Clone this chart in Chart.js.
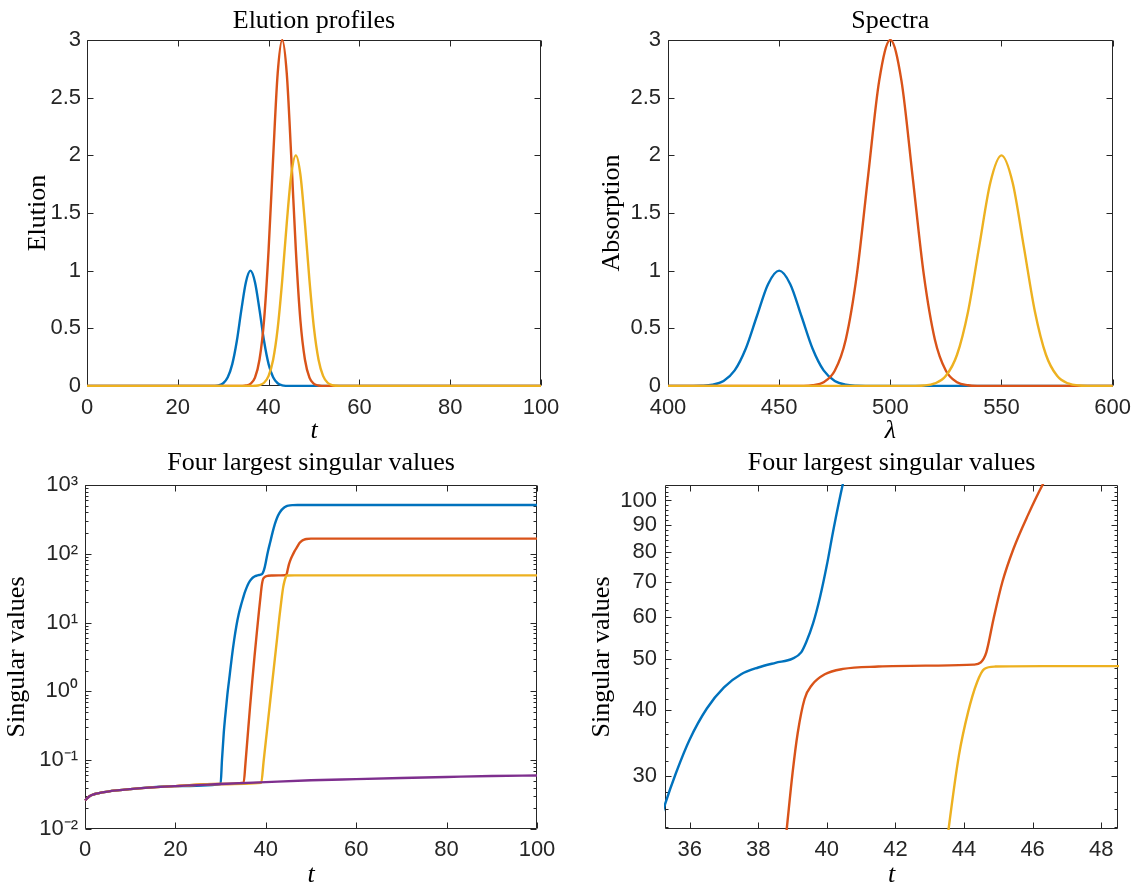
<!DOCTYPE html>
<html>
<head>
<meta charset="utf-8">
<title>Elution / spectra / singular values</title>
<script src="https://cdn.jsdelivr.net/npm/chart.js@4.4.1/dist/chart.umd.min.js"></script>
<style>
  html, body { margin: 0; padding: 0; background: #fff; overflow: hidden; }
  #wrap { position: relative; width: 1140px; height: 884px; overflow: hidden; }
  canvas { position: absolute; }
</style>
</head>
<body>
<div id="wrap">
  <canvas id="elution" width="570" height="460" style="left:0;top:0"></canvas>
  <canvas id="spectra" width="570" height="460" style="left:570px;top:0"></canvas>
  <canvas id="svFull" width="570" height="460" style="left:0;top:440px"></canvas>
  <canvas id="svZoom" width="570" height="460" style="left:570px;top:440px"></canvas>
</div>
<script>
// ---- elution profiles ----
const tElution = [0, 27, 28, 29, 30, 31, 32, 33, 34, 35, 36, 37, 38, 39, 40, 41, 42, 43, 44, 45, 46, 47, 48, 49, 50, 51, 52, 53, 54, 55, 56, 100];
const elutionBlue = [0, 0, 0.001, 0.006, 0.024, 0.076, 0.19, 0.39, 0.66, 0.90, 1, 0.90, 0.66, 0.39, 0.19, 0.076, 0.024, 0.006, 0.001, 0, 0, 0, 0, 0, 0, 0, 0, 0, 0, 0, 0, 0];
const elutionRed = [0, 0, 0, 0, 0, 0, 0, 0, 0.001, 0.004, 0.019, 0.073, 0.23, 0.57, 1.18, 1.98, 2.71, 3, 2.71, 1.98, 1.18, 0.57, 0.23, 0.073, 0.019, 0.004, 0.001, 0, 0, 0, 0, 0];
const elutionYellow = [0, 0, 0, 0, 0, 0, 0, 0, 0, 0, 0, 0.002, 0.008, 0.028, 0.088, 0.228, 0.499, 0.916, 1.413, 1.834, 2, 1.834, 1.413, 0.916, 0.499, 0.228, 0.088, 0.028, 0.008, 0.002, 0, 0];
const elutionXTicks = [0, 20, 40, 60, 80, 100];
const elutionXLabels = ['0', '20', '40', '60', '80', '100'];
const ampTicks = [0, 0.5, 1, 1.5, 2, 2.5, 3];
const ampLabels = ['0', '0.5', '1', '1.5', '2', '2.5', '3'];

// ---- spectra ----
const lambda = [400, 405, 410, 415, 420, 425, 430, 435, 440, 445, 450, 455, 460, 465, 470, 475, 480, 485, 490, 495, 500,
                505, 510, 515, 520, 525, 530, 535, 540, 545, 550, 555, 560, 565, 570, 575, 580, 585, 590, 595, 600];
const spectraBlue = [0, 0, 0.0003, 0.002, 0.011, 0.044, 0.135, 0.325, 0.607, 0.883, 1, 0.883, 0.607, 0.325, 0.135, 0.044, 0.011, 0.002, 0.0003, 0, 0,
                     0, 0, 0, 0, 0, 0, 0, 0, 0, 0, 0, 0, 0, 0, 0, 0, 0, 0, 0, 0];
const spectraRed = [0, 0, 0, 0, 0, 0, 0, 0, 0, 0, 0, 0, 0.001, 0.007, 0.033, 0.132, 0.406, 0.974, 1.820, 2.648, 3,
                    2.648, 1.820, 0.974, 0.406, 0.132, 0.033, 0.007, 0.001, 0, 0, 0, 0, 0, 0, 0, 0, 0, 0, 0, 0];
const spectraYellow = [0, 0, 0, 0, 0, 0, 0, 0, 0, 0, 0, 0, 0, 0, 0, 0, 0, 0, 0, 0, 0,
                       0, 0.001, 0.004, 0.022, 0.088, 0.271, 0.649, 1.213, 1.765, 2, 1.765, 1.213, 0.649, 0.271, 0.088, 0.022, 0.004, 0.001, 0, 0];
const lambdaTicks = [400, 450, 500, 550, 600];
const lambdaLabels = ['400', '450', '500', '550', '600'];

// ---- four largest singular values ----
const tBlue = [0, 1, 2, 5, 10, 20, 30, 30.3, 30.7, 31, 31.5, 32, 32.5, 33, 33.5, 34, 34.5, 35, 35.28, 35.6, 36, 36.5, 37, 37.5, 38, 38.5, 39,
               39.25, 39.4, 39.6, 39.8, 40, 40.2, 40.5, 41, 41.5, 42, 42.5, 43, 43.5, 44, 44.5, 45, 46, 47, 100];
const svBlue = [0.026, 0.030, 0.032, 0.035, 0.038, 0.042, 0.045, 0.1, 0.25, 0.42, 0.9, 1.7, 3.2, 5.6, 9.0, 13.2, 17.8, 23.0, 26.5, 30.4, 35.2, 40.3, 44.2,
                46.8, 48.2, 49.2, 50.1, 51.5, 53.9, 58.5, 65.5, 75.4, 88.6, 110, 150, 205, 270, 335, 390, 435, 468, 490, 502, 510, 512, 512];
const tRed = [0, 1, 2, 5, 10, 20, 30, 35.1, 35.5, 36, 36.5, 37, 37.5, 38, 38.5, 38.83, 39, 39.15, 39.35, 39.57, 39.94, 40.47, 41.5,
              43.1, 44.28, 44.49, 44.65, 44.86, 45.12, 45.44, 45.86, 46.34, 47, 47.5, 48, 48.5, 49, 50, 100];
const svRed = [0.026, 0.030, 0.032, 0.035, 0.038, 0.042, 0.045, 0.047, 0.09, 0.23, 0.58, 1.4, 3.2, 7.0, 14.9, 23.8, 30.4, 36.2, 42.0, 44.7,
               46.8, 47.9, 48.4, 48.6, 48.8, 49.3, 51.5, 59.6, 70.1, 80.9, 93.7, 108.6, 128, 145, 155, 161, 164, 166, 166];
const tYellow = [0, 1, 2, 5, 10, 20, 30, 39, 39.5, 40, 40.5, 41, 41.5, 42, 42.5, 43, 43.55, 43.85, 44.12, 44.38, 44.59, 44.91, 46.3, 100];
const svYellow = [0.026, 0.030, 0.032, 0.035, 0.038, 0.042, 0.045, 0.047, 0.094, 0.188, 0.375, 0.75, 1.49, 2.98, 5.9, 11.9, 23.8, 32.8, 39.7,
                  45.2, 47.9, 48.4, 48.5, 48.5];
const tPurple = [0, 1, 2, 5, 10, 20, 30, 40, 50, 60, 70, 80, 90, 100];
const svPurple = [0.026, 0.030, 0.032, 0.035, 0.038, 0.042, 0.045, 0.048, 0.051, 0.053, 0.055, 0.057, 0.059, 0.060];

const decadeTicks = [0.01, 0.1, 1, 10, 100, 1000];
const decadeLabels = ['10⁻²', '10⁻¹', '10⁰', '10¹', '10²', '10³'];
const decadeMinor = [0.02, 0.03, 0.04, 0.05, 0.06, 0.07, 0.08, 0.09, 0.2, 0.3, 0.4, 0.5, 0.6, 0.7, 0.8, 0.9,
                     2, 3, 4, 5, 6, 7, 8, 9, 20, 30, 40, 50, 60, 70, 80, 90, 200, 300, 400, 500, 600, 700, 800, 900];
const zoomXTicks = [36, 38, 40, 42, 44, 46, 48];
const zoomXLabels = ['36', '38', '40', '42', '44', '46', '48'];
const zoomYTicks = [30, 40, 50, 60, 70, 80, 90, 100];
const zoomYLabels = ['30', '40', '50', '60', '70', '80', '90', '100'];
const zoomYMinor = [24, 26, 28, 32, 34, 36, 38, 42, 44, 46, 48, 52, 54, 56, 58, 62, 64, 66, 68, 72, 74, 76, 78, 82, 84, 86, 88, 92, 94, 96, 98, 102, 104, 106];

const BLUE = '#0072BD', RED = '#D95319', YELLOW = '#EDB120', PURPLE = '#7E2F8E';
const AXIS = '#262626';
const SERIF = "'Liberation Serif', 'Times New Roman', serif";

Chart.defaults.font.family = "'Liberation Sans', Arial, sans-serif";
Chart.defaults.font.size = 22;
Chart.defaults.color = AXIS;

// box round the plot area with inward ticks on all four sides
const boxTicks = {
  id: 'boxTicks',
  beforeDatasetsDraw(chart) {
    const { ctx, chartArea: a } = chart;
    const sx = chart.scales.x, sy = chart.scales.y;
    const L = Math.round(a.left) + 0.5, R = Math.round(a.right) - 0.5;
    const T = Math.round(a.top) + 0.5, B = Math.round(a.bottom) - 0.5;
    ctx.save();
    ctx.strokeStyle = AXIS;
    ctx.lineWidth = 1;
    ctx.beginPath();
    sx.ticks.forEach(t => {
      const p = Math.round(sx.getPixelForValue(t.value)) + 0.5;
      const len = t.minor ? 3 : 6;
      ctx.moveTo(p, B); ctx.lineTo(p, B - len);
      ctx.moveTo(p, T); ctx.lineTo(p, T + len);
    });
    sy.ticks.forEach(t => {
      const p = Math.round(sy.getPixelForValue(t.value)) + 0.5;
      const len = t.minor ? 3 : 6;
      ctx.moveTo(L, p); ctx.lineTo(L + len, p);
      ctx.moveTo(R, p); ctx.lineTo(R - len, p);
    });
    ctx.rect(L, T, R - L, B - T);
    ctx.stroke();
    ctx.restore();
  }
};

// keep the title centred over the plot area rather than the canvas
const centerTitle = {
  id: 'centerTitle',
  afterLayout(chart) {
    const t = chart.titleBlock;
    if (!t) return;
    t.left = chart.chartArea.left;
    t.right = chart.chartArea.right;
    t.width = t.right - t.left;
  }
};

function series(xs, ys, color, order) {
  return {
    data: xs.map((x, i) => ({ x, y: ys[i] })),
    borderColor: color,
    borderWidth: 2.4,
    pointRadius: 0,
    cubicInterpolationMode: 'monotone',
    clip: 1,
    order
  };
}

function setTicks(values, minor) {
  return scale => {
    scale.ticks = values.map(v => ({ value: v }))
      .concat((minor || []).map(v => ({ value: v, minor: true })));
  };
}

function labeller(values, labels) {
  const map = new Map(values.map((v, i) => [v, labels[i]]));
  return v => (map.has(v) ? map.get(v) : '');
}

function makeChart(id, c) {
  return new Chart(document.getElementById(id), {
    type: 'line',
    data: { datasets: c.datasets },
    options: {
      responsive: false,
      animation: false,
      devicePixelRatio: 1,
      layout: { padding: { left: 0, right: c.padRight, top: 0, bottom: 0 } },
      plugins: {
        legend: { display: false },
        tooltip: { enabled: false },
        title: {
          display: true,
          text: c.title,
          color: '#000',
          font: { family: SERIF, size: 26, weight: 'normal' },
          padding: c.titlePad
        }
      },
      scales: {
        x: {
          type: 'linear',
          min: c.xMin, max: c.xMax,
          afterBuildTicks: setTicks(c.xTicks),
          afterFit: s => { s.height = c.xHeight; },
          grid: { display: false, drawTicks: false },
          border: { display: false },
          ticks: { autoSkip: false, maxRotation: 0, padding: c.xTickPad, callback: labeller(c.xTicks, c.xLabels) },
          title: {
            display: true, text: c.xTitle, color: '#000',
            font: { family: SERIF, size: 26, style: 'italic' },
            padding: { top: 0, bottom: c.xTitlePad }
          }
        },
        y: {
          type: c.yType,
          min: c.yMin, max: c.yMax,
          afterBuildTicks: setTicks(c.yTicks, c.yMinor),
          afterFit: s => { s.width = c.yWidth; },
          grid: { display: false, drawTicks: false },
          border: { display: false },
          ticks: { autoSkip: false, padding: c.yTickPad, callback: labeller(c.yTicks, c.yLabels) },
          title: {
            display: true, text: c.yTitle, color: '#000',
            font: { family: SERIF, size: 26 },
            padding: { top: c.yTitlePad, bottom: 0 }
          }
        }
      }
    },
    plugins: [boxTicks, centerTitle]
  });
}

const topTitlePad = { top: 6, bottom: 2.8 };
const lowTitlePad = { top: 7.9, bottom: 5.9 };

makeChart('elution', {
  title: 'Elution profiles', titlePad: topTitlePad, padRight: 29,
  datasets: [
    series(tElution, elutionBlue, BLUE, 2),
    series(tElution, elutionRed, RED, 1),
    series(tElution, elutionYellow, YELLOW, 0)
  ],
  xMin: 0, xMax: 100, xTicks: elutionXTicks, xLabels: elutionXLabels,
  xHeight: 74, xTickPad: 9, xTitle: 't', xTitlePad: 13,
  yType: 'linear', yMin: 0, yMax: 3, yTicks: ampTicks, yLabels: ampLabels,
  yWidth: 87, yTickPad: 6, yTitle: 'Elution', yTitlePad: 22.9
});

makeChart('spectra', {
  title: 'Spectra', titlePad: topTitlePad, padRight: 24,
  datasets: [
    series(lambda, spectraBlue, BLUE, 2),
    series(lambda, spectraRed, RED, 1),
    series(lambda, spectraYellow, YELLOW, 0)
  ],
  xMin: 400, xMax: 600, xTicks: lambdaTicks, xLabels: lambdaLabels,
  xHeight: 74, xTickPad: 9, xTitle: 'λ', xTitlePad: 13,
  yType: 'linear', yMin: 0, yMax: 3, yTicks: ampTicks, yLabels: ampLabels,
  yWidth: 98, yTickPad: 7, yTitle: 'Absorption', yTitlePad: 26.6
});

function singularSets() {
  return [
    series(tBlue, svBlue, BLUE, 3),
    series(tRed, svRed, RED, 2),
    series(tYellow, svYellow, YELLOW, 1),
    series(tPurple, svPurple, PURPLE, 0)
  ];
}

makeChart('svFull', {
  title: 'Four largest singular values', titlePad: lowTitlePad, padRight: 33,
  datasets: singularSets(),
  xMin: 0, xMax: 100, xTicks: elutionXTicks, xLabels: elutionXLabels,
  xHeight: 71, xTickPad: 8, xTitle: 't', xTitlePad: 8.9,
  yType: 'logarithmic', yMin: 0.01, yMax: 1000, yTicks: decadeTicks, yLabels: decadeLabels, yMinor: decadeMinor,
  yWidth: 85, yTickPad: 7, yTitle: 'Singular values', yTitlePad: 1.6
});

makeChart('svZoom', {
  title: 'Four largest singular values', titlePad: lowTitlePad, padRight: 22,
  datasets: singularSets(),
  xMin: 35.28, xMax: 48.49, xTicks: zoomXTicks, xLabels: zoomXLabels,
  xHeight: 71, xTickPad: 8, xTitle: 't', xTitlePad: 8.9,
  yType: 'logarithmic', yMin: 23.8, yMax: 107, yTicks: zoomYTicks, yLabels: zoomYLabels, yMinor: zoomYMinor,
  yWidth: 95, yTickPad: 8, yTitle: 'Singular values', yTitlePad: 16.6
});
</script>
</body>
</html>
